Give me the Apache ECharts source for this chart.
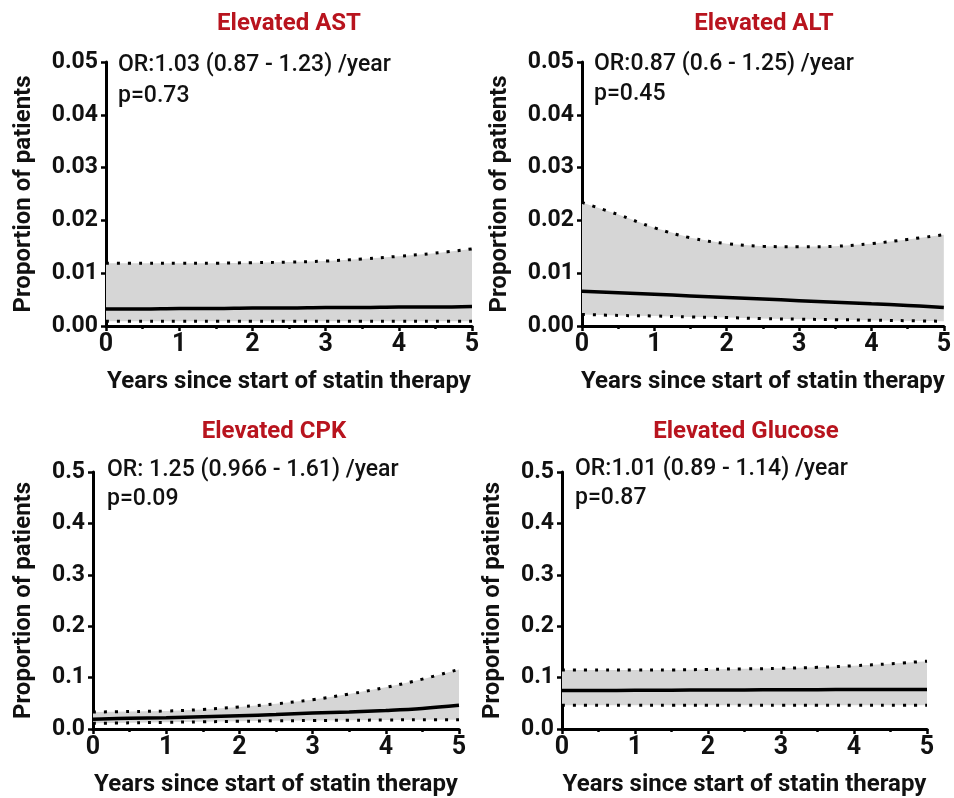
<!DOCTYPE html>
<html><head><meta charset="utf-8">
<script src="https://cdn.jsdelivr.net/npm/echarts@6/dist/echarts.min.js"></script>
<style>html,body{margin:0;padding:0;background:#fff}#c{width:954px;height:798px}</style>
</head><body><div id="c"></div>
<script>
const years = [0, 0.5, 1, 1.5, 2, 2.5, 3, 3.5, 4, 4.5, 5];
const panelTitles = ['Elevated AST', 'Elevated ALT', 'Elevated CPK', 'Elevated Glucose'];
const orTexts = ['OR:1.03 (0.87 - 1.23) /year', 'OR:0.87 (0.6 - 1.25) /year', 'OR: 1.25 (0.966 - 1.61) /year', 'OR:1.01 (0.89 - 1.14) /year'];
const pTexts = ['p=0.73', 'p=0.45', 'p=0.09', 'p=0.87'];

const astMean  = [0.0032, 0.0032, 0.0033, 0.0033, 0.0034, 0.0034, 0.0035, 0.0035, 0.0036, 0.0036, 0.0037];
const astUpper = [0.0119, 0.0119, 0.0119, 0.0119, 0.0120, 0.0121, 0.0123, 0.0127, 0.0132, 0.0138, 0.0146];
const astLower = [0.0009, 0.0009, 0.0009, 0.0009, 0.0009, 0.0009, 0.0009, 0.0009, 0.0009, 0.0009, 0.0009];

const altMean  = [0.0066, 0.0063, 0.0060, 0.0057, 0.0054, 0.0051, 0.0048, 0.0045, 0.0042, 0.0039, 0.0035];
const altUpper = [0.0234, 0.0211, 0.0186, 0.0167, 0.0156, 0.0151, 0.0150, 0.0151, 0.0156, 0.0164, 0.0173];
const altLower = [0.0022, 0.0020, 0.0019, 0.0017, 0.0016, 0.0014, 0.0013, 0.0012, 0.0011, 0.0010, 0.0009];

const cpkMean  = [0.019, 0.021, 0.022, 0.024, 0.026, 0.028, 0.031, 0.033, 0.036, 0.040, 0.046];
const cpkUpper = [0.033, 0.034, 0.035, 0.038, 0.043, 0.049, 0.057, 0.068, 0.081, 0.097, 0.116];
const cpkLower = [0.011, 0.012, 0.013, 0.014, 0.015, 0.016, 0.0165, 0.017, 0.0175, 0.018, 0.018];

const gluMean  = [0.075, 0.075, 0.0753, 0.0755, 0.0758, 0.076, 0.0763, 0.0765, 0.0768, 0.077, 0.077];
const gluUpper = [0.115, 0.115, 0.115, 0.115, 0.116, 0.117, 0.118, 0.120, 0.123, 0.127, 0.132];
const gluLower = [0.046, 0.046, 0.046, 0.046, 0.046, 0.046, 0.046, 0.046, 0.046, 0.046, 0.046];

const xTickLabels = ['0', '1', '2', '3', '4', '5'];
const yTicksSmall = ['0.00', '0.01', '0.02', '0.03', '0.04', '0.05'];
const yTicksLarge = ['0.0', '0.1', '0.2', '0.3', '0.4', '0.5'];

const panels = [
  {mean: astMean, upper: astUpper, lower: astLower, max: 0.05, ticks: yTicksSmall},
  {mean: altMean, upper: altUpper, lower: altLower, max: 0.05, ticks: yTicksSmall},
  {mean: cpkMean, upper: cpkUpper, lower: cpkLower, max: 0.5, ticks: yTicksLarge},
  {mean: gluMean, upper: gluUpper, lower: gluLower, max: 0.5, ticks: yTicksLarge}
];

const grids = [
  {left: 106, top: 62, width: 366, height: 264},
  {left: 582, top: 62, width: 366, height: 264},
  {left: 93, top: 472, width: 366, height: 259},
  {left: 562, top: 472, width: 365, height: 259}
];
const FONT = 'Roboto';
const chart = echarts.init(document.getElementById('c'), null, {renderer: 'canvas'});

const xAxes = [], yAxes = [], series = [], graphics = [];
panels.forEach((p, i) => {
  xAxes.push({
    gridIndex: i, type: 'value', min: 0, max: 5, interval: 1,
    name: 'Years since start of statin therapy', nameLocation: 'middle', nameGap: 44,
    nameTextStyle: {fontFamily: FONT, fontSize: 24, fontWeight: 'bold', color: '#111'},
    axisLine: {show: true, lineStyle: {color: '#000', width: 3}},
    axisTick: {show: true, length: 5, lineStyle: {color: '#000', width: 2.5}},
    minorTick: {show: true, splitNumber: 2, length: 3, lineStyle: {color: '#000', width: 2.5}},
    splitLine: {show: false},
    axisLabel: {fontFamily: FONT, fontSize: 25, fontWeight: 'bold', color: '#111', margin: 6,
      formatter: v => xTickLabels[Math.round(v)]}
  });
  const step = p.max / 5;
  yAxes.push({
    gridIndex: i, type: 'value', min: 0, max: p.max, interval: step,
    name: 'Proportion of patients', nameLocation: 'middle', nameGap: i < 2 ? 70 : 57,
    nameTextStyle: {fontFamily: FONT, fontSize: 24, fontWeight: 'bold', color: '#111'},
    axisLine: {show: true, lineStyle: {color: '#000', width: 3}},
    axisTick: {show: true, length: 5, lineStyle: {color: '#000', width: 2.5}},
    splitLine: {show: false},
    axisLabel: {fontFamily: FONT, fontSize: 23, fontWeight: 'bold', color: '#111', margin: 8,
      formatter: v => p.ticks[Math.round(v / step)]}
  });
  // confidence band drawn as a polygon through the axis scales
  series.push({
    type: 'custom', xAxisIndex: i, yAxisIndex: i, silent: true, z: 1,
    data: [0],
    renderItem: (params, api) => {
      const top = years.map((x, k) => api.coord([x, p.upper[k]]));
      const bot = years.map((x, k) => api.coord([x, p.lower[k]])).reverse();
      return {type: 'polygon', shape: {points: top.concat(bot), smooth: 0}, style: {fill: '#d6d6d6'}};
    }
  });
  [p.upper, p.lower].forEach(arr => series.push({
    type: 'line', xAxisIndex: i, yAxisIndex: i, smooth: 0.4, symbol: 'none',
    data: years.map((x, k) => [x, arr[k]]),
    lineStyle: {color: '#000', width: 3, type: [3, 8], cap: 'butt'}, z: 3
  }));
  series.push({
    type: 'line', xAxisIndex: i, yAxisIndex: i, smooth: 0.4, symbol: 'none',
    data: years.map((x, k) => [x, p.mean[k]]),
    lineStyle: {color: '#000', width: 3.5}, z: 4
  });
});

const titlePos = [[289, 24], [764, 24], [274, 432], [746, 432]];
const annPos = [[118, 65, 96], [594, 64, 94], [107, 470, 499], [575, 469, 498]];
panelTitles.forEach((t, i) => {
  graphics.push({type: 'text', x: titlePos[i][0], y: titlePos[i][1],
    style: {text: t, font: 'bold 24px ' + FONT, fill: '#b8141e', align: 'center', verticalAlign: 'middle'}});
  graphics.push({type: 'text', x: annPos[i][0], y: annPos[i][1],
    style: {text: orTexts[i], font: '500 23px ' + FONT, fill: '#111', align: 'left', verticalAlign: 'middle'}});
  graphics.push({type: 'text', x: annPos[i][0], y: annPos[i][2],
    style: {text: pTexts[i], font: '500 23px ' + FONT, fill: '#111', align: 'left', verticalAlign: 'middle'}});
});

chart.setOption({
  backgroundColor: '#fff',
  animation: false,
  grid: grids,
  xAxis: xAxes,
  yAxis: yAxes,
  series: series,
  graphic: graphics
});
</script></body></html>
